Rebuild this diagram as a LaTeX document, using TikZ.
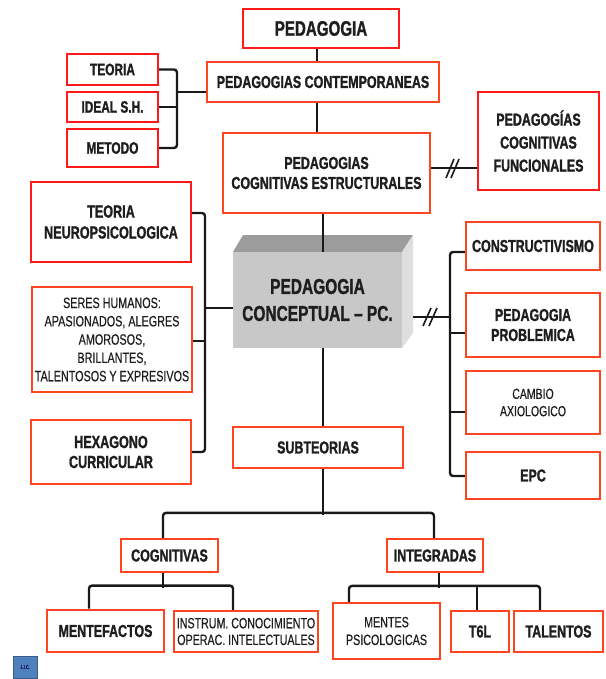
\documentclass[tikz,border=0pt]{standalone}
\usepackage{fontspec}
\setmainfont{Liberation Sans}[FakeStretch=0.72, UprightFeatures={FakeBold=0.4}, BoldFeatures={FakeBold=1.2}]
\usetikzlibrary{calc}
\definecolor{redb}{HTML}{FF1A1A}
\definecolor{orb}{HTML}{FF4422}
\definecolor{txt}{HTML}{1E1E1E}
\definecolor{cubetop}{HTML}{9C9C9C}
\definecolor{cubefront}{HTML}{C8C8C8}
\definecolor{cuberight}{HTML}{DEDEDE}
\definecolor{jjcfill}{HTML}{4F81BD}
\definecolor{jjcdraw}{HTML}{385D8A}
\tikzset{
  box/.style={draw=orb, line width=2.2pt, fill=white, inner sep=0pt, align=center,
    text=txt, font=\bfseries\fontsize{17.3}{20}\selectfont},
  rbox/.style={box, draw=redb},
  reg/.style={font=\fontsize{14.8}{17.8}\selectfont},
  conn/.style={line width=2.4pt, draw=black!90, rounded corners=3pt},
  slash/.style={line width=1.6pt, draw=black!90},
}
\begin{document}
\begin{tikzpicture}[x=1pt,y=-1pt]
\useasboundingbox (0,0) rectangle (605,679);

% ---------- cube ----------
\fill[cubetop] (233,252) -- (243,235) -- (413,235) -- (402,252) -- cycle;
\fill[cuberight] (402,252) -- (413,235) -- (413,333) -- (402,348) -- cycle;
\node[fill=cubefront, minimum width=169pt, minimum height=96pt, inner sep=0pt,
  align=center, text=txt, font=\bfseries\fontsize{21.5}{27}\selectfont] (cube) at (317.5,300)
  {PEDAGOGIA\\CONCEPTUAL – PC.};
\coordinate (cuber) at (413,317);

% ---------- boxes ----------
\node[rbox, minimum width=156pt, minimum height=39pt, font=\bfseries\fontsize{21}{24}\selectfont] (ped) at (321,28.5) {PEDAGOGIA};
\node[box, minimum width=232pt, minimum height=40pt] (pcon) at (323,82) {PEDAGOGIAS CONTEMPORANEAS};
\node[rbox, minimum width=91pt, minimum height=31pt, font=\bfseries\fontsize{16.5}{20}\selectfont] (teo) at (112.5,69.5) {TEORIA};
\node[rbox, minimum width=91pt, minimum height=30pt, font=\bfseries\fontsize{16.5}{20}\selectfont] (ideal) at (112.5,107) {IDEAL S.H.};
\node[rbox, minimum width=91pt, minimum height=38pt, font=\bfseries\fontsize{16.5}{20}\selectfont] (met) at (112.5,148) {METODO};
\node[box, minimum width=207pt, minimum height=80pt] (pce) at (326.5,173) {PEDAGOGIAS\\COGNITIVAS ESTRUCTURALES};
\node[rbox, minimum width=121pt, minimum height=98pt, font=\bfseries\fontsize{17.3}{23}\selectfont] (pcf) at (538.5,141) {PEDAGOGÍAS\\COGNITIVAS\\FUNCIONALES};
\node[rbox, minimum width=160pt, minimum height=80pt, font=\bfseries\fontsize{17.5}{21}\selectfont] (neuro) at (111,222) {TEORIA\\NEUROPSICOLOGICA};
\node[box, reg, minimum width=160pt, minimum height=105pt, font=\fontsize{15}{18.3}\selectfont] (seres) at (112,339.5) {SERES HUMANOS:\\APASIONADOS, ALEGRES\\AMOROSOS,\\BRILLANTES,\\TALENTOSOS Y EXPRESIVOS};
\node[box, minimum width=160pt, minimum height=64pt, font=\bfseries\fontsize{17.5}{20}\selectfont] (hexa) at (111,452) {HEXAGONO\\CURRICULAR};
\node[box, minimum width=134pt, minimum height=48pt] (constr) at (533,246) {CONSTRUCTIVISMO};
\node[box, minimum width=134pt, minimum height=64pt] (prob) at (533,325) {PEDAGOGIA\\PROBLEMICA};
\node[box, minimum width=134pt, minimum height=63pt, font=\fontsize{14.6}{17.3}\selectfont] (cambio) at (533,402.5) {CAMBIO\\AXIOLOGICO};
\node[box, minimum width=134pt, minimum height=47pt] (epc) at (533,475.5) {EPC};
\node[box, minimum width=170pt, minimum height=41pt] (sub) at (318,447.5) {SUBTEORIAS};
\node[box, minimum width=97pt, minimum height=33pt] (cog) at (169.5,555.5) {COGNITIVAS};
\node[box, minimum width=96pt, minimum height=33pt] (integ) at (435,555.5) {INTEGRADAS};
\node[box, line width=2.8pt, minimum width=117pt, minimum height=42pt] (mente) at (105.5,631) {MENTEFACTOS};
\node[box, minimum width=144pt, minimum height=41pt, font=\fontsize{14.8}{16.7}\selectfont] (instr) at (246,631.5) {INSTRUM. CONOCIMIENTO\\OPERAC. INTELECTUALES};
\node[box, minimum width=107pt, minimum height=56pt, font=\fontsize{14.9}{17.7}\selectfont] (mentes) at (386.5,631) {MENTES\\PSICOLOGICAS};
\node[box, minimum width=58pt, minimum height=41pt] (t6l) at (480,631.5) {T6L};
\node[box, minimum width=89pt, minimum height=41pt] (tal) at (558.5,631.5) {TALENTOS};
\node[draw=jjcdraw, fill=jjcfill, line width=0.8pt, minimum width=24pt, minimum height=22pt,
  inner sep=0pt, text=black!70!blue, font=\fontsize{5}{6}\selectfont] (jjc) at (25,667) {J.J.C.};

% ---------- connectors ----------
\draw[conn] ($(ped.south)+(-4,0)$) coordinate (t0) -- (t0 |- pcon.north);
\draw[conn] ($(pcon.south)+(-6,0)$) coordinate (t1) -- (t1 |- pce.north);
\draw[conn] ($(pce.south)+(-3.5,0)$) coordinate (t2) -- (t2 |- cube.north);
\draw[conn] ($(sub.north)+(5,0)$) coordinate (t3) -- (t3 |- cube.south);

% left bracket 1
\coordinate (b1) at (177,92);
\draw[conn] (teo.east) -| (b1) |- (met.east);
\draw[conn] (ideal.east) -- (ideal.east -| b1);
\draw[conn] (b1) -- (b1 -| pcon.west);

% pce -> pcf
\draw[conn] ($(pce.east)+(0,-5)$) coordinate (t4) -- (t4 -| pcf.west);
\draw[slash] (446,178) -- (454,159);
\draw[slash] (451,178) -- (459,159);

% left bracket 2
\coordinate (b2) at (205,308);
\draw[conn] ($(neuro.east)+(0,-9)$) -| (b2) |- (hexa.east);
\draw[conn] ($(seres.east)+(0,1.5)$) coordinate (t5) -- (t5 -| b2);
\draw[conn] (b2) -- (b2 -| cube.west);

% right bracket
\coordinate (b3) at (450,317);
\draw[conn] ($(constr.west)+(0,6)$) -| (b3) |- ($(epc.west)+(0,0.5)$);
\draw[conn] ($(prob.west)+(0,8)$) coordinate (t6) -- (t6 -| b3);
\draw[conn] ($(cambio.west)+(0,9.5)$) coordinate (t7) -- (t7 -| b3);
\draw[conn] (cuber) -- (b3);
\draw[slash] (423,326) -- (431,308);
\draw[slash] (429,326) -- (437,308);

% subteorias fork
\draw[conn] ($(sub.south)+(5,0)$) -- ++(0,46);
\draw[conn] ($(cog.north)+(-6.5,0)$) -- ++(0,-25) -- ($(integ.north)+(-1,-25)$) -- ($(integ.north)+(-1,0)$);

% cognitivas fork
\draw[conn] ($(cog.south)+(-6.5,0)$) -- ++(0,15);
\draw[conn] ($(mente.north)+(-16.5,0)$) -- ++(0,-23) -| ($(instr.north)+(-13,0)$);

% integradas fork
\draw[conn] ($(integ.south)+(4,0)$) -- ++(0,15);
\draw[conn] ($(mentes.north)+(-37.5,0)$) -- ++(0,-16) -| ($(tal.north)+(-18.5,0)$);
\draw[conn] ($(t6l.north)+(-3,0)$) -- ++(0,-24);
\end{tikzpicture}
\end{document}
